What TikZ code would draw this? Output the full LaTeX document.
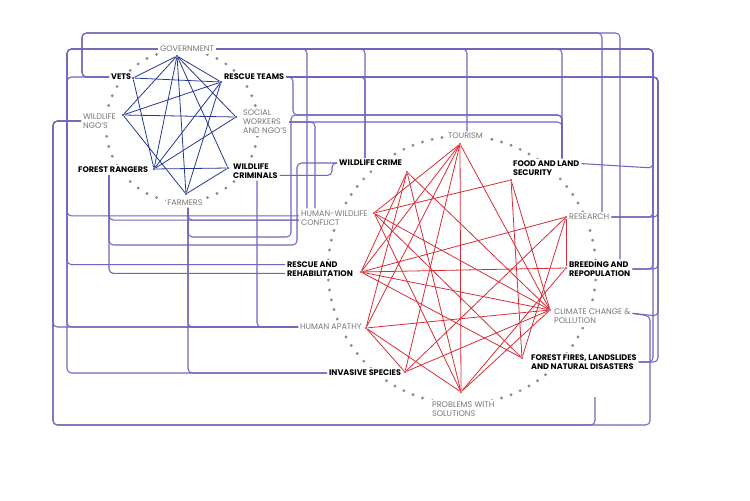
\documentclass[tikz,border=0pt]{standalone}
\usepackage{fontspec}
\setmainfont{Poppins}
\usetikzlibrary{calc}
\definecolor{linkpurple}{RGB}{112,101,190}
\definecolor{netblue}{RGB}{36,54,146}
\definecolor{netred}{RGB}{214,44,56}
\definecolor{dotgray}{RGB}{140,140,140}
\definecolor{labelgray}{RGB}{120,120,120}
\tikzset{
    % --- Grey issue label ---
    issue/.style = {
        font=\fontsize{4.6}{5.2}\selectfont,
        text=labelgray, fill=white,
        inner sep=1pt, align=left
    },
    % --- Bold issue label ---
    key issue/.style = {
        issue, font=\fontsize{4.6}{5.2}\selectfont\bfseries, text=black
    },
    % --- Purple connector between the two rings ---
    link/.style = {
        draw=linkpurple, line width=0.6pt, rounded corners=2.5pt
    },
    % --- Ring dots ---
    ring dot/.style = {
        circle, fill=dotgray, inner sep=0pt, minimum size=1.8pt
    },
    % --- Network corners ---
    blue vertex/.style = {
        circle, fill=netblue, inner sep=0pt, minimum size=1.4pt
    },
    red vertex/.style = {
        circle, fill=netred, inner sep=0pt, minimum size=1.4pt
    },
    blue edge/.style = {netblue, line width=0.45pt},
    red edge/.style = {netred, line width=0.45pt}
}

\begin{document}
\begin{tikzpicture}[x=0.02cm, y=-0.02cm]

\path[fill=white, use as bounding box] (0,0) rectangle (750,500);

% ---------------------------------------------------------
% Dotted rings
% ---------------------------------------------------------
\coordinate (leftc) at (182,126);
\coordinate (rightc) at (462,270);
\foreach \i in {1,...,46}
    \node[ring dot] (ldot\i) at ($(leftc)+({\i*7.8261}:76)$) {};
\foreach \i in {1,...,84}
    \node[ring dot] (rdot\i) at ($(rightc)+({\i*4.2857}:134)$) {};

% ---------------------------------------------------------
% Labels, left ring
% ---------------------------------------------------------
\node[issue] (government) at (187,49) {GOVERNMENT};
\node[key issue, anchor=west] (vets) at (109,77) {VETS};
\node[key issue, anchor=west] (rescue) at (222,77) {RESCUE TEAMS};
\node[issue, anchor=west] (ngos) at (81,121) {WILDLIFE\\NGO'S};
\node[issue, anchor=west] (social) at (241,122) {SOCIAL\\WORKERS\\AND NGO'S};
\node[key issue, anchor=west] (rangers) at (76,170) {FOREST RANGERS};
\node[key issue, anchor=west] (criminals) at (231,171) {WILDLIFE\\CRIMINALS};
\node[issue] (farmers) at (185,203) {FARMERS};

% ---------------------------------------------------------
% Labels, right ring
% ---------------------------------------------------------
\node[issue, anchor=west] (tourism) at (446,136) {TOURISM};
\node[key issue, anchor=west] (crime) at (337,163) {WILDLIFE CRIME};
\node[key issue, anchor=west] (food) at (511,168) {FOOD AND LAND\\SECURITY};
\node[issue, anchor=west] (conflict) at (299,218) {HUMAN-WILDLIFE\\CONFLICT};
\node[issue, anchor=west] (research) at (567,217) {RESEARCH};
\node[key issue, anchor=west] (rehab) at (285,269) {RESCUE AND\\REHABILITATION};
\node[key issue, anchor=west] (breeding) at (567,269) {BREEDING AND\\REPOPULATION};
\node[issue, anchor=west] (apathy) at (298,327) {HUMAN APATHY};
\node[issue, anchor=west] (climate) at (552,316) {CLIMATE CHANGE \&\\POLLUTION};
\node[key issue, anchor=west] (invasive) at (327,373) {INVASIVE SPECIES};
\node[key issue, anchor=west] (fires) at (529,362) {FOREST FIRES, LANDSLIDES\\AND NATURAL DISASTERS};
\node[issue, anchor=west] (problems) at (430,409) {PROBLEMS WITH\\SOLUTIONS};

\coordinate (loose) at (595,397);

% ---------------------------------------------------------
% Purple links
% ---------------------------------------------------------
% vets
\draw[link] (vets.west) -| (82,33) -| (602,0 |- research.north);
\draw[link] (vets.west) -| (82,33) -| (620,0 |- breeding.north);
\draw[link] (vets.west) -| (67,150) |- ([yshift=2.5pt]rehab.west);
% government
\draw[link] (government.west) -| (67,150) |- ([yshift=1.2pt]conflict.west);
\draw[link] (government.west) -| (67,150) |- (apathy.west);
\draw[link] (government.west) -| (67,150) |- (invasive.west);
\draw[link] (government.east) -| (307,0 |- conflict.north);
\draw[link] (government.east) -| (365,0 |- crime.north);
\draw[link] (government.east) -| (467,0 |- tourism.north);
\draw[link] (government.east) -| (562,0 |- food.north);
\draw[link] (government.east) -| (653,0 |- food.east) -- ([yshift=2.5pt]food.east);
\draw[link] (government.east) -| (653,0 |- research.east) -- (research.east);
\draw[link] (government.east) -| (653,0 |- breeding.east) -- (breeding.east);
\draw[link] (government.east) -| (653,0 |- fires.east) -- (fires.east);
% rescue teams
\draw[link] (rescue.east) -| (365,0 |- crime.north);
\draw[link] (rescue.east) -| (293,115) -| (562,0 |- food.north);
\draw[link] (rescue.east) -| (658,0 |- research.east) -- (research.east);
\draw[link] (rescue.east) -| (658,0 |- breeding.east) -- (breeding.east);
\draw[link] (rescue.east) -| (658,0 |- climate.east) -- ([yshift=1.5pt]climate.east);
\draw[link] (rescue.east) -| (658,0 |- fires.east) -- (fires.east);
% social workers
\draw[link] (social.east) -| (315,0 |- conflict.north);
\draw[link] (social.east) -| (562,0 |- food.north);
% ngos
\draw[link] (ngos.west) -| (53,300) |- (apathy.west);
\draw[link] (ngos.west) -| (53,425) -| (650,0 |- climate.east) -- ([yshift=1.5pt]climate.east);
\draw[link] (ngos.west) -| (53,425) -| (loose);
% forest rangers
\draw[link] (109,0 |- rangers.south) |- ([yshift=-1.2pt]conflict.west);
\draw[link] (109,0 |- rangers.south) |- (297,245) |- (crime.west);
\draw[link] (109,0 |- rangers.south) |- ([yshift=-2.5pt]rehab.west);
% wildlife criminals
\draw[link] ([yshift=-2.5pt]criminals.east) -| (332,0 |- crime.west) -- (crime.west);
\draw[link] (257,0 |- criminals.south) |- (apathy.west);
% farmers
\draw[link] (188,0 |- farmers.south) |- ([yshift=-1.2pt]conflict.west);
\draw[link] (188,0 |- farmers.south) |- (291,237) |- (562,115) -- (562,0 |- food.north);
\draw[link] (188,0 |- farmers.south) |- (apathy.west);
\draw[link] (188,0 |- farmers.south) |- (invasive.west);

% ---------------------------------------------------------
% Blue network
% ---------------------------------------------------------
\node[blue vertex] (vGov) at (177,56) {};
\node[blue vertex] (vVets) at (133,78) {};
\node[blue vertex] (vRescue) at (221,82) {};
\node[blue vertex] (vNgo) at (123,115) {};
\node[blue vertex] (vSocial) at (236,117) {};
\node[blue vertex] (vRangers) at (154,169) {};
\node[blue vertex] (vCriminals) at (228,168) {};
\node[blue vertex] (vFarmers) at (186,194) {};

\foreach \a/\b in {vGov/vVets, vGov/vRescue, vGov/vNgo, vGov/vSocial,
    vGov/vRangers, vGov/vFarmers, vGov/vCriminals, vVets/vRescue,
    vVets/vRangers, vRescue/vNgo, vRescue/vRangers, vRescue/vFarmers,
    vNgo/vSocial, vNgo/vFarmers, vSocial/vRangers, vRangers/vCriminals,
    vCriminals/vFarmers}
    \draw[blue edge] (\a) -- (\b);

% ---------------------------------------------------------
% Red network
% ---------------------------------------------------------
\node[red vertex] (vTourism) at (460,144) {};
\node[red vertex] (vCrime) at (407,172) {};
\node[red vertex] (vFood) at (511,180) {};
\node[red vertex] (vConflict) at (374,213) {};
\node[red vertex] (vResearch) at (566,217) {};
\node[red vertex] (vRehab) at (361,272) {};
\node[red vertex] (vBreeding) at (566,268) {};
\node[red vertex] (vApathy) at (366,328) {};
\node[red vertex] (vClimate) at (550,310) {};
\node[red vertex] (vInvasive) at (405,372) {};
\node[red vertex] (vFires) at (522,358) {};
\node[red vertex] (vProblems) at (461,392) {};

\foreach \a/\b in {vTourism/vConflict, vTourism/vInvasive, vTourism/vProblems,
    vTourism/vClimate, vTourism/vApathy, vCrime/vApathy, vCrime/vProblems,
    vCrime/vClimate, vCrime/vRehab, vFood/vConflict, vFood/vFires,
    vFood/vClimate, vConflict/vClimate, vConflict/vFires, vConflict/vProblems,
    vResearch/vRehab, vResearch/vBreeding, vResearch/vInvasive,
    vResearch/vFires, vRehab/vBreeding, vRehab/vClimate, vRehab/vFires,
    vRehab/vTourism, vApathy/vClimate, vApathy/vInvasive, vApathy/vProblems,
    vProblems/vClimate, vProblems/vBreeding, vInvasive/vClimate}
    \draw[red edge] (\a) -- (\b);

\end{tikzpicture}
\end{document}
